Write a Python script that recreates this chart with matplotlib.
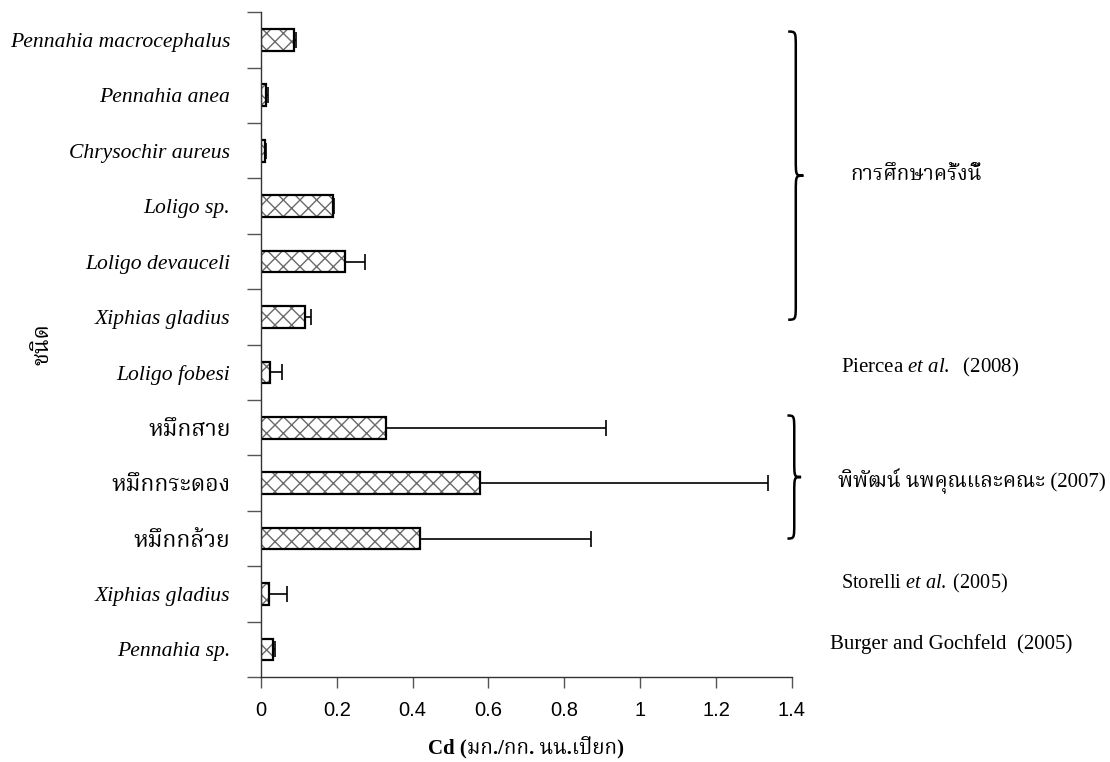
import matplotlib
matplotlib.use("Agg")
import matplotlib.pyplot as plt
import numpy as np
from matplotlib import font_manager as fm
from matplotlib.ft2font import FT2Font
from matplotlib.path import Path
from matplotlib.patches import PathPatch

# species, top to bottom
species = ["Pennahia macrocephalus", "Pennahia anea", "Chrysochir aureus",
           "Loligo sp.", "Loligo devauceli", "Xiphias gladius", "Loligo fobesi",
           "หมึกสาย", "หมึกกระดอง", "หมึกกล้วย", "Xiphias gladius", "Pennahia sp."]
cd_mean = [0.088, 0.013, 0.012, 0.19, 0.223, 0.116, 0.023,
           0.33, 0.578, 0.42, 0.022, 0.032]
cd_sd = [0.005, 0.006, 0.002, 0.003, 0.051, 0.015, 0.032,
         0.58, 0.76, 0.45, 0.048, 0.004]
xticks = [0, 0.2, 0.4, 0.6, 0.8, 1, 1.2, 1.4]


def find_thai_font():
    # installed family with Thai glyphs, preferring one that has a bold face
    fams = {}
    for f in fm.fontManager.ttflist:
        try:
            if 0x0E01 in FT2Font(f.fname).get_charmap():
                fams.setdefault(f.name, set()).add(f.weight)
        except Exception:
            pass
    if not fams:
        return "DejaVu Sans"
    for pref in ["Noto Serif Thai", "Noto Sans Thai Looped", "Norasi", "Garuda",
                 "Loma", "Noto Sans Thai"]:
        if pref in fams:
            return pref
    bold = [n for n, w in fams.items()
            if any((isinstance(x, int) and x >= 600) or x == "bold" for x in w)]
    return bold[0] if bold else sorted(fams)[0]


THAI = find_thai_font()
SERIF = "Liberation Serif"
MIXED = [SERIF, THAI]

plt.rcParams["mathtext.fontset"] = "custom"
plt.rcParams["mathtext.rm"] = SERIF
plt.rcParams["mathtext.it"] = SERIF + ":italic"


def brace(ax, x0, w, y1, y2, lw=1.8):
    # right-pointing curly brace from y1 (top) to y2 (bottom)
    xm = x0 + w * 0.5
    mid = (y1 + y2) / 2
    r = 0.3
    verts = [(x0, y1), (xm, y1), (xm, y1), (xm, y1 + r),
             (xm, mid - r),
             (xm, mid), (xm, mid), (x0 + w, mid),
             (xm, mid), (xm, mid), (xm, mid + r),
             (xm, y2 - r),
             (xm, y2), (xm, y2), (x0, y2)]
    codes = [Path.MOVETO, Path.CURVE4, Path.CURVE4, Path.CURVE4,
             Path.LINETO,
             Path.CURVE4, Path.CURVE4, Path.CURVE4,
             Path.CURVE4, Path.CURVE4, Path.CURVE4,
             Path.LINETO,
             Path.CURVE4, Path.CURVE4, Path.CURVE4]
    ax.add_patch(PathPatch(Path(verts, codes), fill=False, lw=lw,
                           color="black", clip_on=False))


fig = plt.figure(figsize=(11.1, 7.62), dpi=100)
ax = fig.add_axes([0.235, 0.1115, 0.4785, 0.8725])

y = np.arange(len(species))
xerr = [np.zeros(len(species)), cd_sd]

# hatched fill, then black outline on top
ax.barh(y, cd_mean, height=0.39, color="white", edgecolor="#6a6a6a",
        hatch="xx", linewidth=0)
ax.barh(y, cd_mean, height=0.39, fill=False, edgecolor="black", linewidth=1.6)
ax.errorbar(cd_mean, y, xerr=xerr, fmt="none", ecolor="black",
            elinewidth=1.2, capsize=6, capthick=1.2)

ax.set_xlim(0, 1.4)
ax.set_ylim(len(species) - 0.5, -0.5)
ax.set_xticks(xticks)
ax.set_xticklabels([f"{v:g}" for v in xticks], family="Liberation Sans", fontsize=14.5)

ax.set_yticks(y)
ax.set_yticklabels(species)
ax.set_yticks(np.arange(len(species) + 1) - 0.5, minor=True)
ax.tick_params(axis="y", which="major", length=0, pad=22)
ax.tick_params(axis="y", which="minor", length=10, color="#555555", width=1)
ax.tick_params(axis="x", length=8, color="#555555", width=1, pad=9)

for lab in ax.get_yticklabels():
    lab.set_style("italic")
    if any("\u0e00" <= ch <= "\u0e7f" for ch in lab.get_text()):
        lab.set_family(MIXED)
        lab.set_fontsize(16.5)
    else:
        lab.set_family(SERIF)
        lab.set_fontsize(15.6)

for s in ["top", "right"]:
    ax.spines[s].set_visible(False)
for s in ["left", "bottom"]:
    ax.spines[s].set_color("#333333")
    ax.spines[s].set_linewidth(1)

ax.set_xlabel("Cd (มก./กก. นน.เปียก)", family=MIXED,
              fontsize=15, fontweight="bold", labelpad=12)
ax.set_ylabel("ชนิด", family=MIXED, fontsize=16, fontweight="bold")
ax.yaxis.set_label_coords(-0.39, 0.5)

# group braces and sources
brace(ax, 1.39, 0.04, -0.15, 5.05)
brace(ax, 1.388, 0.036, 6.78, 9.0)

ax.text(1.555, 2.45, "การศึกษาครั้งนี้", family=MIXED, fontsize=15,
        va="center", ha="left", clip_on=False)
ax.text(1.528, 5.92, r"Piercea $\mathit{et\ al.}$  (2008)", family=SERIF,
        fontsize=15, va="center", ha="left", clip_on=False)
ax.text(1.52, 7.97, "พิพัฒน์ นพคุณและคณะ (2007)", family=MIXED,
        fontsize=15, va="center", ha="left", clip_on=False)
ax.text(1.528, 9.82, r"Storelli $\mathit{et\ al.}\;$(2005)", family=SERIF,
        fontsize=14.6, va="center", ha="left", clip_on=False)
ax.text(1.50, 10.9, "Burger and Gochfeld  (2005)", family=SERIF,
        fontsize=15, va="center", ha="left", clip_on=False)

fig.savefig("out.png", dpi=100)
